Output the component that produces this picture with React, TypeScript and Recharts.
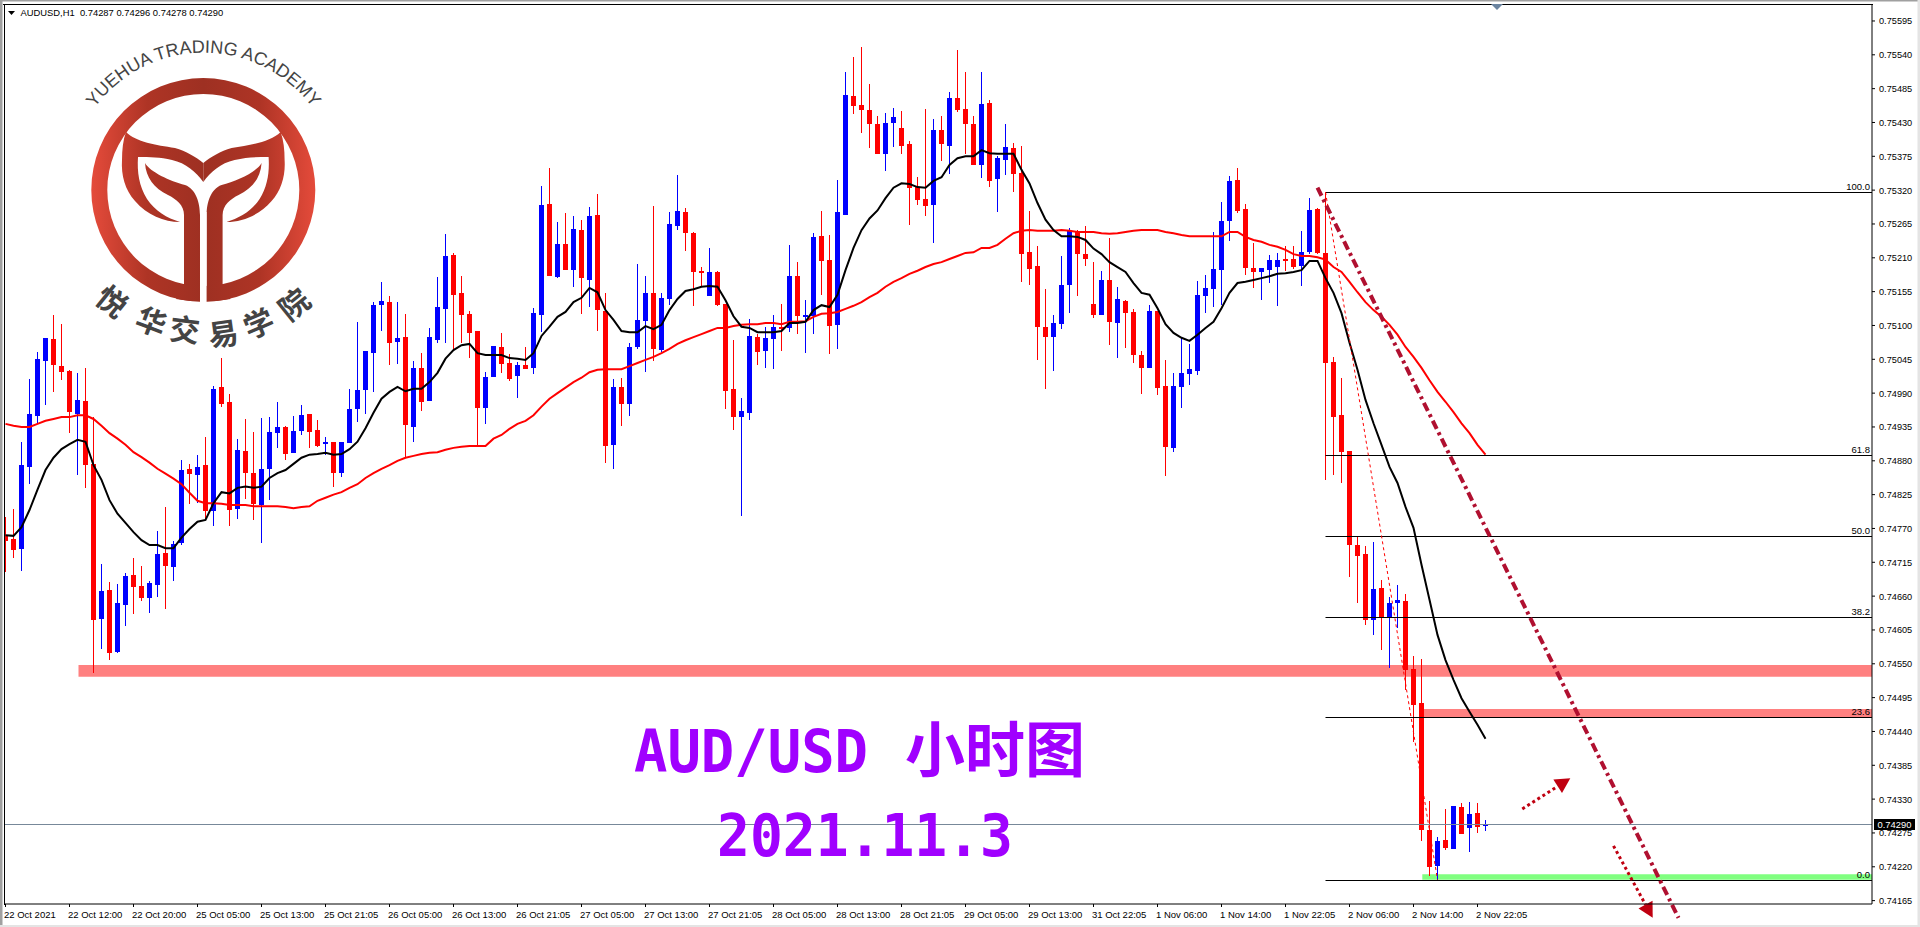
import React from "react";
import { ComposedChart, Bar, Line, XAxis, YAxis, ReferenceArea, ReferenceLine } from "recharts";

// All prices below are in 1/100000 (75012 = 0.75012)
const highs = [
74789,74802,74911,75013,75057,75080,75117,75102,75028,75023,
75031,74951,74712,74683,74680,74698,74722,74709,74685,74766,
74805,74750,74881,74875,74890,74919,75002,75047,74989,74916,
74948,74927,74950,74951,74976,74937,74953,74971,74956,74946,
74919,74911,74911,74997,75106,75059,75138,75171,75148,75138,
75119,75042,75055,75096,75179,75249,75218,75180,75123,75091,
75024,75067,75088,75054,75041,75065,75128,75327,75356,75268,
75283,75278,75272,75293,75314,75153,75013,75015,75072,75200,
75180,75294,75153,75284,75345,75291,75252,75195,75226,75189,
75135,75076,74982,75111,75086,75098,75117,75135,75231,75203,
75141,75250,75286,75247,75337,75512,75536,75553,75493,75440,
75445,75454,75449,75400,75341,75452,75436,75440,75480,75548,
75512,75440,75512,75467,75375,75428,75397,75392,75286,75229,
75159,75117,75213,75259,75255,75262,75203,75189,75242,75163,
75141,75127,75059,75133,75123,75044,75023,75080,75070,75172,
75182,75252,75301,75343,75356,75298,75234,75194,75215,75218,
75229,75229,75254,75307,75291,75315,75049,75015,74896,74756,
74742,74748,74686,74659,74678,74664,74563,74558,74327,74268,
74314,74319,74324,74325,74324,74296];

const lows = [
74699,74722,74701,74842,74940,74971,74992,75011,74925,74857,
74836,74535,74574,74556,74568,74611,74631,74652,74633,74659,
74639,74685,74743,74810,74811,74784,74774,74968,74774,74785,
74818,74784,74746,74816,74901,74881,74893,74922,74901,74903,
74890,74838,74854,74909,74943,74956,74992,75091,75036,75037,
74886,74911,74961,74977,75072,75072,75060,75072,75047,74903,
74940,75016,75023,75010,74982,75029,75021,75089,75180,75177,
75190,75163,75119,75130,75091,74877,74867,74937,74953,75062,
75024,75042,75057,75133,75255,75221,75132,75163,75148,75132,
74964,74930,74790,74946,75036,75031,75029,75059,75089,75086,
75055,75086,75150,75054,75062,75280,75444,75413,75389,75379,
75351,75390,75379,75263,75296,75278,75234,75367,75346,75447,
75379,75361,75340,75325,75284,75345,75317,75171,75166,75044,
74997,75026,75094,75120,75148,75197,75112,75117,75068,75047,
75063,75039,74989,75031,74987,74855,74894,74966,75003,75020,
75120,75130,75133,75237,75283,75182,75161,75141,75169,75132,
75189,75192,75164,75216,75216,74849,74857,74844,74691,74649,
74613,74597,74572,74543,74608,74507,74423,74262,74205,74199,
74247,74249,74273,74244,74275,74278];

const opens = [
74759,74753,74737,74870,74953,75042,75078,75034,75026,74956,
74977,74875,74623,74670,74569,74646,74694,74677,74657,74678,
74730,74707,74746,74867,74857,74873,74798,75000,74976,74802,
74896,74860,74808,74867,74925,74935,74893,74929,74956,74930,
74907,74911,74860,74909,74964,74995,75055,75133,75138,75073,
75081,74935,75031,74977,75076,75127,75215,75153,75119,75091,
74966,75016,75065,75039,75018,75036,75031,75117,75298,75179,
75233,75190,75255,75174,75280,75123,74906,75000,74972,75065,
75107,75153,75060,75143,75262,75284,75250,75189,75148,75187,
75135,74997,74951,74958,75081,75059,75078,75098,75096,75180,
75115,75115,75245,75207,75101,75280,75473,75458,75450,75428,
75379,75429,75421,75395,75325,75306,75296,75418,75392,75470,
75452,75428,75361,75462,75338,75369,75389,75348,75219,75197,
75098,75081,75102,75166,75254,75216,75135,75117,75174,75104,
75140,75122,75052,75031,75123,75002,74901,75000,75021,75026,
75148,75159,75190,75270,75337,75289,75194,75187,75190,75195,
75208,75208,75197,75219,75289,75218,75041,74954,74896,74743,
74729,74621,74673,74626,74649,74652,74542,74486,74280,74221,
74264,74249,74317,74283,74308,74287];

const closes = [
74750,74735,74873,74956,75046,75080,75036,75024,74959,74979,
74873,74621,74668,74568,74649,74693,74675,74657,74681,74729,
74709,74745,74865,74859,74870,74798,74997,74972,74800,74898,
74860,74810,74867,74927,74935,74891,74929,74954,74927,74904,
74911,74860,74911,74964,74995,75059,75133,75140,75072,75080,
74938,75031,74976,75081,75130,75213,75150,75117,75088,74966,
75016,75067,75037,75013,75036,75029,75120,75296,75180,75233,
75190,75257,75177,75278,75125,74904,75000,74972,75065,75109,
75153,75062,75145,75265,75286,75250,75187,75185,75187,75133,
74993,74951,74961,75083,75057,75080,75098,75094,75180,75115,
75117,75244,75205,75099,75284,75475,75457,75450,75428,75379,
75429,75439,75392,75324,75304,75294,75418,75395,75470,75450,
75428,75361,75460,75335,75372,75390,75346,75216,75192,75098,
75081,75104,75166,75254,75216,75208,75117,75174,75106,75143,
75120,75052,75031,75123,74999,74903,75002,75023,75029,75150,
75161,75192,75270,75335,75286,75194,75187,75194,75207,75207,
75205,75195,75219,75288,75218,75039,74951,74894,74743,74725,
74621,74672,74626,74649,74654,74540,74483,74280,74220,74262,
74251,74319,74273,74306,74285,74290];

const fastMA = [
74759,74758,74772,74800,74833,74865,74885,74899,74907,74914,
74911,74873,74849,74816,74794,74779,74764,74751,74743,74743,
74738,74738,74755,74769,74781,74784,74811,74829,74827,74836,
74838,74836,74838,74852,74860,74865,74875,74885,74890,74891,
74893,74890,74891,74899,74911,74933,74958,74981,74992,75000,
74993,74997,74997,75008,75023,75046,75060,75068,75070,75055,
75052,75052,75052,75047,75046,75044,75055,75083,75098,75114,
75122,75138,75145,75161,75154,75125,75109,75091,75089,75089,
75099,75094,75101,75125,75143,75156,75159,75163,75164,75163,
75141,75115,75098,75096,75089,75089,75089,75091,75104,75104,
75106,75125,75133,75130,75150,75190,75226,75255,75274,75287,
75307,75324,75331,75330,75325,75324,75335,75341,75361,75372,
75375,75375,75385,75380,75379,75379,75379,75353,75331,75299,
75272,75255,75245,75245,75244,75239,75225,75216,75203,75195,
75187,75169,75153,75150,75128,75102,75088,75080,75075,75085,
75096,75106,75128,75153,75169,75171,75174,75177,75180,75184,
75185,75187,75190,75205,75205,75177,75153,75120,75072,75028,
74979,74941,74906,74870,74844,74805,74771,74711,74654,74597,
74556,74524,74494,74472,74451,74428];

const slowMA = [
74940,74937,74935,74935,74940,74945,74948,74951,74951,74954,
74954,74948,74937,74925,74916,74906,74894,74886,74877,74867,
74859,74851,74842,74828,74815,74811,74811,74810,74808,74808,
74808,74806,74806,74806,74806,74805,74803,74805,74806,74815,
74820,74825,74829,74836,74842,74852,74860,74867,74873,74880,
74885,74888,74891,74893,74894,74898,74901,74903,74904,74904,
74904,74916,74922,74932,74940,74945,74954,74968,74981,74990,
74999,75008,75015,75024,75028,75029,75029,75029,75034,75039,
75044,75049,75055,75062,75070,75076,75081,75086,75091,75096,
75096,75099,75101,75102,75102,75104,75104,75102,75106,75106,
75107,75114,75119,75120,75122,75127,75132,75138,75146,75153,
75163,75171,75177,75184,75189,75195,75200,75203,75208,75213,
75218,75219,75226,75226,75231,75241,75250,75254,75255,75254,
75254,75254,75255,75254,75252,75252,75252,75250,75249,75250,
75252,75254,75255,75255,75255,75252,75250,75247,75245,75245,
75245,75245,75245,75252,75252,75244,75239,75236,75231,75228,
75223,75216,75213,75213,75211,75207,75195,75187,75171,75154,
75138,75125,75114,75101,75085,75065,75049,75031,75011,74992,
74976,74959,74941,74925,74906,74890];

const priceTicks = [
0.75595,0.7554,0.75485,0.7543,0.75375,0.7532,0.75265,0.7521,0.75155,0.751,
0.75045,0.7499,0.74935,0.7488,0.74825,0.7477,0.74715,0.7466,0.74605,0.7455,
0.74495,0.7444,0.74385,0.7433,0.74275,0.7422,0.74165];

const timeLabels = [
"22 Oct 2021","22 Oct 12:00","22 Oct 20:00","25 Oct 05:00","25 Oct 13:00","25 Oct 21:05",
"26 Oct 05:00","26 Oct 13:00","26 Oct 21:05","27 Oct 05:00","27 Oct 13:00","27 Oct 21:05",
"28 Oct 05:00","28 Oct 13:00","28 Oct 21:05","29 Oct 05:00","29 Oct 13:00","31 Oct 22:05",
"1 Nov 06:00","1 Nov 14:00","1 Nov 22:05","2 Nov 06:00","2 Nov 14:00","2 Nov 22:05"];
const timeTicks = [0,8,16,24,32,40,48,56,64,72,80,88,96,104,112,120,128,136,144,152,160,168,176,184];

const fibLevels = [
  { label: "100.0", price: 0.75317 },
  { label: "61.8", price: 0.7489 },
  { label: "50.0", price: 0.74758 },
  { label: "38.2", price: 0.74626 },
  { label: "23.6", price: 0.74463 },
  { label: "0.0", price: 0.74199 },
];
const FIB_START = 165;
const X_DOMAIN = [-0.1875, 233.3125];
const Y_DOMAIN = [0.741595, 0.756226];
const LAST_PRICE = 0.7429;
const HEADER = "AUDUSD,H1  0.74287 0.74296 0.74278 0.74290";
const BLUE = "#0000FF";
const RED = "#FF0000";
const TREND = "#B01030";
const ARROW = "#C00010";
const PINK = "#FF8080";
const GREEN = "#80FF80";
const PURPLE = "#A000FF";
const UI_FONT = "'Liberation Sans', Arial, sans-serif";

const rows = opens.map((o, i) => ({
  i,
  range: [lows[i] / 1e5, highs[i] / 1e5],
  open: o / 1e5,
  close: closes[i] / 1e5,
  high: highs[i] / 1e5,
  low: lows[i] / 1e5,
  fast: fastMA[i] / 1e5,
  slow: slowMA[i] / 1e5,
}));

function Candle(props: any) {
  const { x, y, width, height, payload } = props;
  const h = Math.abs(height) || 1;
  const top = height < 0 ? y + height : y;
  const { high, low, open, close } = payload;
  const at = (p: number) => top + ((high - p) / (high - low)) * h;
  const cx = Math.floor(x + width / 2);
  const color = close >= open ? BLUE : RED;
  const bt = Math.round(at(Math.max(open, close)));
  const bb = Math.round(at(Math.min(open, close)));
  const wt = Math.round(top);
  const wb = Math.round(top + h);
  return (
    <g>
      <rect x={cx} y={wt} width={1} height={Math.max(wb - wt, 1)} fill={color} />
      <rect x={cx - 2} y={bt} width={5} height={Math.max(bb - bt, 2)} fill={color} />
    </g>
  );
}

function FibShape(props: any) {
  const { x1, y1, x2, y2, text } = props;
  return (
    <g>
      <line x1={x1} y1={Math.round(y1) + 0.5} x2={x2} y2={Math.round(y2) + 0.5} stroke="#000" strokeWidth={1} />
      <text x={x2 - 2} y={y1 - 2} textAnchor="end" fontSize={9.5} fontFamily={UI_FONT} fill="#000">{text}</text>
    </g>
  );
}

function PriceLine(props: any) {
  const { x1, y1, x2 } = props;
  const yy = Math.round(y1) + 0.5;
  const left = Math.min(x1, x2);
  const right = Math.max(x1, x2);
  return (
    <g>
      <line x1={left} y1={yy} x2={right} y2={yy} stroke="#778899" strokeWidth={1} />
      <rect x={right + 2} y={yy - 5.5} width={41} height={11} fill="#000" />
      <text x={right + 5.5} y={yy + 3.5} fontSize={9.4} fontFamily={UI_FONT} fill="#fff">{LAST_PRICE.toFixed(5)}</text>
    </g>
  );
}

function Arrow(props: any) {
  const { x1, y1, x2, y2 } = props;
  const dx = x2 - x1;
  const dy = y2 - y1;
  const len = Math.hypot(dx, dy);
  const ux = dx / len;
  const uy = dy / len;
  const bx = x2 - ux * 15;
  const by = y2 - uy * 15;
  return (
    <g>
      <line x1={x1} y1={y1} x2={bx} y2={by} stroke={ARROW} strokeWidth={3} strokeDasharray="3 3" />
      <polygon points={`${x2},${y2} ${bx - uy * 8},${by + ux * 8} ${bx + uy * 8},${by - ux * 8}`} fill={ARROW} />
    </g>
  );
}

function TimeTick(props: any) {
  const { x, y, payload } = props;
  const k = timeTicks.indexOf(payload.value);
  return (
    <text x={x - 1.5} y={y + 8.5} fontSize={9.5} fontFamily={UI_FONT} fill="#000">{timeLabels[k]}</text>
  );
}

function PriceTick(props: any) {
  const { x, y, payload } = props;
  return (
    <text x={x + 2} y={y + 3.5} fontSize={9.2} fontFamily={UI_FONT} fill="#000">{payload.value.toFixed(5)}</text>
  );
}

const CJK_ARC = [
  { ch: "悦", x: 113, y: 300, r: 39 },
  { ch: "华", x: 152, y: 320, r: 21 },
  { ch: "交", x: 185, y: 328, r: 7 },
  { ch: "易", x: 223, y: 332, r: -8 },
  { ch: "学", x: 258, y: 322, r: -23 },
  { ch: "院", x: 293, y: 303, r: -39 },
];

function LeafHalf() {
  return (
    <g>
      <path
        d="M126,132 C136,142 156,145 175,148 C186,151 196,157 203.3,163 L203.3,182 C196,172 186,163 172,160 C160,157 150,157 138,157 C137,172 139,186 147,199 C155,211 167,218 180,222 C164,222 147,215 135,201 C125,190 121,175 122,160 C122,150 123,140 126,132 Z"
        fill="url(#logoGrad)"
      />
      <path
        d="M145,163 C150,172 170,181 185,185 C196,189 200,203 200,215 L200,292 C197,297 194,300 190,301 L176,299 L184,284 L184,215 C184,205 176,199 168,195 C154,188 146,178 145,163 Z"
        fill="url(#logoGrad)"
      />
    </g>
  );
}

function Overlay() {
  return (
    <svg width={1920} height={927} style={{ position: "absolute", left: 0, top: 0, pointerEvents: "none" }}>
      <defs>
        <linearGradient id="logoGrad" gradientUnits="userSpaceOnUse" x1="91" y1="0" x2="316" y2="0">
          <stop offset="0%" stopColor="#E54B3B" />
          <stop offset="25%" stopColor="#AE3425" />
          <stop offset="50%" stopColor="#9E3022" />
          <stop offset="75%" stopColor="#AE3425" />
          <stop offset="100%" stopColor="#E54B3B" />
        </linearGradient>
        <path id="logoArc" d="M 85 123 A 135 135 0 0 1 322 123" fill="none" />
      </defs>
      {/* window chrome */}
      <rect x={0} y={0} width={1920} height={1.5} fill="#A0A0A0" />
      <rect x={0} y={0} width={2.5} height={927} fill="#A0A0A0" />
      <rect x={0} y={925} width={1920} height={2} fill="#E4E4E4" />
      <rect x={1917.5} y={0} width={2.5} height={927} fill="#E4E4E4" />
      <line x1={3} y1={4.5} x2={1873} y2={4.5} stroke="#000" strokeWidth={1} />
      <line x1={4.5} y1={4} x2={4.5} y2={905} stroke="#000" strokeWidth={1} />
      <polygon points="1491,4 1503,4 1497,10" fill="#6B84A0" />
      {/* header */}
      <polygon points="8,11 15,11 11.5,15" fill="#000" />
      <text x={20.5} y={16} fontSize={9.4} fontFamily={UI_FONT} fill="#000" xmlSpace="preserve">{HEADER}</text>
      {/* logo */}
      <path
        fillRule="evenodd"
        d="M91.3,190 A112,112 0 1 1 315.3,190 A112,112 0 1 1 91.3,190 Z M107.3,190 A96,96 0 1 0 299.3,190 A96,96 0 1 0 107.3,190 Z"
        fill="url(#logoGrad)"
      />
      <LeafHalf />
      <g transform="translate(406.6,0) scale(-1,1)">
        <LeafHalf />
      </g>
      <rect x={200} y={212} width={6.6} height={96} fill="#fff" />
      <text fontSize={18} fontFamily={UI_FONT} fill="#444" textAnchor="middle">
        <textPath href="#logoArc" startOffset="50%">YUEHUA TRADING ACADEMY</textPath>
      </text>
      {CJK_ARC.map((c) => (
        <text
          key={c.ch}
          x={c.x}
          y={c.y}
          transform={`rotate(${c.r} ${c.x} ${c.y})`}
          textAnchor="middle"
          dominantBaseline="central"
          fontSize={30}
          fontWeight={700}
          fontFamily="'Noto Sans CJK SC', sans-serif"
          fill="#444"
        >
          {c.ch}
        </text>
      ))}
      {/* titles */}
      <text x={634} y={772} fontSize={58} fontWeight={700} fontFamily="'DejaVu Sans Mono', monospace" fill={PURPLE} textLength={234} lengthAdjust="spacingAndGlyphs">AUD/USD</text>
      <text x={905} y={772} fontSize={60} fontWeight={700} fontFamily="'Noto Sans CJK SC', sans-serif" fill={PURPLE}>小时图</text>
      <text x={717} y={856} fontSize={58} fontWeight={700} fontFamily="'DejaVu Sans Mono', monospace" fill={PURPLE} textLength={296} lengthAdjust="spacingAndGlyphs">2021.11.3</text>
    </svg>
  );
}

export default function App() {
  return (
    <div style={{ position: "fixed", left: 0, top: 0, width: 1920, height: 927, background: "#fff", overflow: "hidden" }}>
      <ComposedChart width={1920} height={927} data={rows} margin={{ top: 4, right: 0, bottom: 0, left: 4 }}>
        <XAxis
          dataKey="i"
          type="number"
          domain={X_DOMAIN}
          allowDataOverflow
          ticks={timeTicks}
          interval={0}
          height={23}
          tickSize={3}
          stroke="#000"
          tick={<TimeTick />}
        />
        <YAxis
          orientation="right"
          type="number"
          domain={Y_DOMAIN}
          allowDataOverflow
          ticks={priceTicks}
          interval={0}
          width={48}
          tickSize={3}
          stroke="#000"
          tick={<PriceTick />}
        />
        <ReferenceArea x1={9.125} x2={X_DOMAIN[1]} y1={0.74529} y2={0.74548} fill={PINK} fillOpacity={1} stroke="none" ifOverflow="visible" />
        <ReferenceArea x1={177.25} x2={X_DOMAIN[1]} y1={0.74462} y2={0.744765} fill={PINK} fillOpacity={1} stroke="none" ifOverflow="visible" />
        <ReferenceArea x1={177.1} x2={X_DOMAIN[1]} y1={0.74199} y2={0.74208} fill={GREEN} fillOpacity={1} stroke="none" ifOverflow="visible" />
        <ReferenceLine y={LAST_PRICE} shape={<PriceLine />} ifOverflow="visible" />
        <Bar dataKey="range" barSize={5} shape={<Candle />} isAnimationActive={false} />
        <Line dataKey="slow" stroke="#FF0000" strokeWidth={2} dot={false} activeDot={false} isAnimationActive={false} />
        <Line dataKey="fast" stroke="#000000" strokeWidth={2} dot={false} activeDot={false} isAnimationActive={false} />
        {fibLevels.map((f) => (
          <ReferenceLine
            key={f.label}
            segment={[{ x: FIB_START, y: f.price }, { x: X_DOMAIN[1], y: f.price }]}
            shape={<FibShape text={f.label} />}
            ifOverflow="visible"
          />
        ))}
        <ReferenceLine
          segment={[{ x: 165, y: 0.75317 }, { x: 179, y: 0.74199 }]}
          stroke={RED}
          strokeWidth={1}
          strokeDasharray="3 3"
          ifOverflow="visible"
        />
        <ReferenceLine
          segment={[{ x: 164, y: 0.75324 }, { x: 209.125, y: 0.74137 }]}
          stroke={TREND}
          strokeWidth={4}
          strokeDasharray="9 4 3 4"
          ifOverflow="visible"
        />
        <ReferenceLine segment={[{ x: 189.6, y: 0.74314 }, { x: 195.6, y: 0.74364 }]} shape={<Arrow />} ifOverflow="visible" />
        <ReferenceLine segment={[{ x: 201, y: 0.74254 }, { x: 205.9, y: 0.74137 }]} shape={<Arrow />} ifOverflow="visible" />
      </ComposedChart>
      <Overlay />
    </div>
  );
}
